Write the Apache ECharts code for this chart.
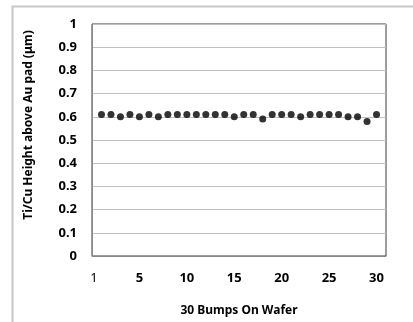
<!DOCTYPE html>
<html>
<head>
<meta charset="utf-8">
<script src="https://cdn.jsdelivr.net/npm/echarts@6/dist/echarts.min.js"></script>
<style>html,body{margin:0;padding:0;background:#fff;}#c{width:413px;height:322px;}</style>
</head>
<body>
<div id="c"></div>
<script>
var bumps = [1,2,3,4,5,6,7,8,9,10,11,12,13,14,15,16,17,18,19,20,21,22,23,24,25,26,27,28,29,30];
var heights = [0.61,0.61,0.60,0.61,0.60,0.61,0.60,0.61,0.61,0.61,0.61,0.61,0.61,0.61,0.60,0.61,0.61,0.59,0.61,0.61,0.61,0.60,0.61,0.61,0.61,0.61,0.60,0.60,0.58,0.61];
var xTitle = '30 Bumps On Wafer';
var yTitle = 'Ti/Cu Height above Au pad (\u03bcm)';

var chart = echarts.init(document.getElementById('c'), null, {renderer: 'canvas'});
chart.setOption({
  animation: false,
  backgroundColor: '#fff',
  graphic: [{
    type: 'rect', silent: true, z: -10,
    shape: {x: 12.5, y: 6.5, width: 600, height: 600},
    style: {fill: 'none', stroke: '#c8c8c8', lineWidth: 2}
  }],
  grid: {left: 92, top: 24, right: 27, bottom: 63, show: true, borderColor: '#3a3a3a', borderWidth: 1, backgroundColor: 'transparent'},
  xAxis: {
    type: 'value', min: 0, max: 31, interval: 5,
    name: xTitle, nameLocation: 'middle', nameGap: 49,
    nameTextStyle: {fontFamily: 'Noto Sans', fontWeight: 'bold', fontSize: 12, color: '#000'},
    axisLine: {show: true, lineStyle: {color: '#888', width: 1}},
    axisTick: {show: false},
    splitLine: {show: false},
    axisLabel: {
      margin: 16, fontFamily: 'Noto Sans', fontWeight: 'bold', fontSize: 13, color: '#000',
      showMaxLabel: false,
      formatter: function (v) { if (v === 0) return '{n|1}'; if (v > 30) return ''; return String(v); },
      rich: {n: {fontFamily: 'Noto Sans', fontWeight: 'normal', fontSize: 13, color: '#000', padding: [0, 0, 0, 4]}}
    }
  },
  yAxis: {
    type: 'value', min: 0, max: 1, interval: 0.1,
    name: yTitle, nameLocation: 'middle', nameGap: 57, nameRotate: 90,
    nameTextStyle: {fontFamily: 'Noto Sans', fontWeight: 'bold', fontSize: 12, color: '#000', padding: [0, 0, 0, 30]},
    axisLine: {show: true, lineStyle: {color: '#888', width: 1}},
    axisTick: {show: false},
    splitLine: {show: true, lineStyle: {color: '#c0c0c0', width: 1}},
    axisLabel: {
      margin: 15, fontFamily: 'Noto Sans', fontWeight: 'bold', fontSize: 13, color: '#000',
      formatter: function (v) { if (v === 0) return '0'; if (v === 1) return '1'; return v.toFixed(1); }
    }
  },
  series: [{
    type: 'scatter',
    data: bumps.map(function (b, i) { return [b, heights[i]]; }),
    symbol: 'circle', symbolSize: 7,
    itemStyle: {color: '#000'}
  }]
});
</script>
</body>
</html>
